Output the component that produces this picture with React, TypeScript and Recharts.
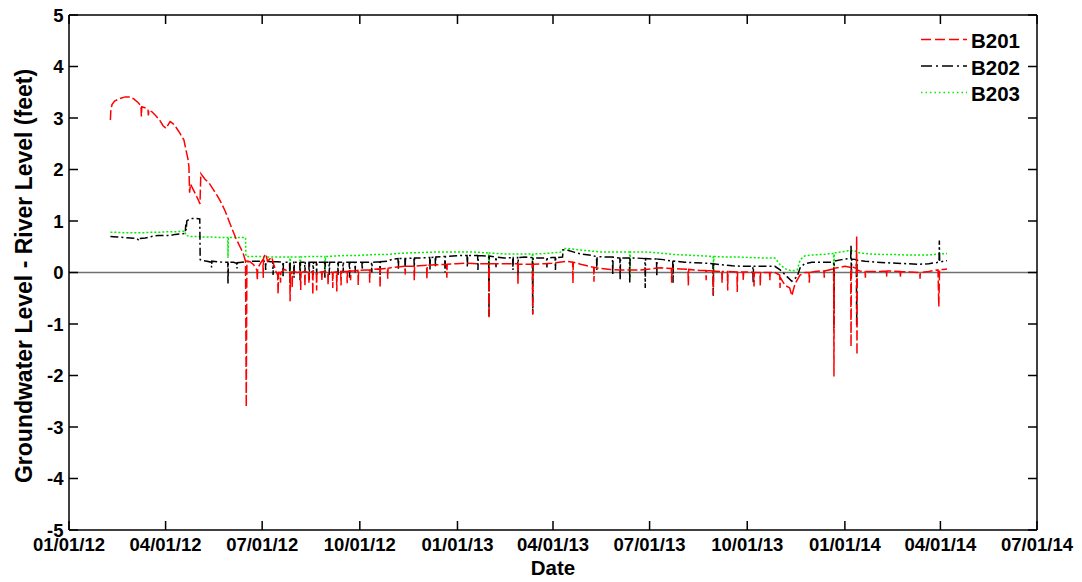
import React from 'react';
import { LineChart, Line, XAxis, YAxis, ReferenceLine, Legend } from 'recharts';

// x = days since 01/01/2012, y = feet
const dateTicks = [0, 91, 182, 274, 366, 456, 547, 639, 731, 821, 912];
const dateTickLabels = ['01/01/12', '04/01/12', '07/01/12', '10/01/12', '01/01/13', '04/01/13', '07/01/13', '10/01/13', '01/01/14', '04/01/14', '07/01/14'];
const valueTicks = [-5, -4, -3, -2, -1, 0, 1, 2, 3, 4, 5];
const seriesNames = ['B201', 'B202', 'B203'];

const b201: [number, number][] = [
  [39.0, 2.96], [39.4, 3.14], [40.5, 3.26], [43, 3.33], [48, 3.38], [53, 3.41], [57.5, 3.41], [61, 3.37], [65, 3.30],
  [67.8, 3.24], [68.2, 3.03], [68.6, 3.22], [71.5, 3.20], [74.4, 3.17], [74.8, 3.05], [75.2, 3.15], [78.2, 3.12],
  [82, 3.04], [85.7, 2.95], [88.6, 2.85], [91.4, 2.80], [95.2, 2.93], [98, 2.89], [100.8, 2.82], [104.6, 2.70],
  [108.3, 2.57], [110.2, 2.38], [112.1, 2.20], [113, 2.05], [113.6, 1.55], [114.5, 1.72], [116.8, 1.62], [119.7, 1.50],
  [122.5, 1.38], [123.4, 1.33], [124.2, 1.92], [128.1, 1.81], [131.9, 1.74], [135.7, 1.62], [139.4, 1.50], [143.2, 1.36],
  [147, 1.20], [149.8, 1.05], [153.6, 0.85], [157.3, 0.66], [161.1, 0.50], [164, 0.38], [166.3, 0.22], [167.0, -2.61],
  [167.6, 0.22], [170.5, 0.21], [174, 0.15], [177, 0.05], [177.4, -0.15], [177.8, 0.08], [181, 0.2], [182.7, 0.25],
  [183, -0.1], [183.3, 0.28], [184, 0.32], [185.5, 0.36], [187, 0.22], [189, 0.26], [191, 0.3], [193, 0.15], [195, 0.02],
  [196.6, -0.05], [197, -0.42], [197.4, 0.0], [199, 0.0], [199.3, -0.2], [199.6, 0.0], [203, 0.06], [205.5, 0.03],
  [208, 0.0], [208.3, -0.56], [208.6, 0.0], [210, 0.01], [210.3, -0.3], [210.6, 0.01], [212, 0.02], [215, 0.0],
  [218, 0.01], [218.3, -0.34], [218.6, 0.0], [222, 0.02], [222.3, -0.27], [222.6, 0.02], [225.7, 0.0], [226, -0.2],
  [226.3, 0.0], [229.4, 0.02], [229.7, -0.43], [230, 0.02], [233, 0.01], [233.3, -0.35], [233.6, 0.01], [235, 0.0],
  [238, 0.01], [238.3, -0.15], [238.6, 0.01], [240, 0.02], [243.8, 0.0], [244.1, -0.24], [244.4, 0.01], [248.2, 0.0],
  [248.5, -0.3], [248.8, 0.0], [252, 0.01], [252.3, -0.37], [252.6, 0.01], [256, 0.02], [256.3, -0.25], [256.6, 0.02],
  [258, 0.02], [261.8, 0.02], [262.1, -0.21], [262.4, 0.02], [265, 0.03], [265.3, -0.15], [265.6, 0.03], [268, 0.03],
  [272.2, 0.04], [272.5, -0.24], [272.8, 0.04], [280, 0.05], [283, 0.05], [283.3, -0.2], [283.6, 0.05], [286, 0.06],
  [292.8, 0.07], [293.1, -0.3], [293.4, 0.07], [300, 0.08], [300.3, -0.12], [300.6, 0.08], [305, 0.1], [312, 0.11],
  [316.5, 0.12], [316.8, -0.04], [317.1, 0.12], [325, 0.12], [325.3, -0.15], [325.6, 0.12], [330, 0.13], [336.9, 0.14],
  [337.2, -0.13], [337.5, 0.14], [345, 0.15], [355.7, 0.16], [356, -0.1], [356.3, 0.16], [365, 0.17], [375, 0.18],
  [385, 0.17], [395.4, 0.17], [395.7, -0.89], [396, 0.17], [405, 0.17], [415, 0.17], [422.7, 0.17], [423, -0.24],
  [423.3, 0.16], [430, 0.16], [436.6, 0.16], [436.9, -0.82], [437.2, 0.16], [448, 0.17], [455, 0.18], [462, 0.2],
  [469, 0.22], [474.5, 0.2], [474.8, -0.21], [475.1, 0.2], [482, 0.16], [488, 0.13], [494.3, 0.1], [494.6, -0.18],
  [494.9, 0.1], [500, 0.08], [510, 0.06], [519, 0.05], [528, 0.05], [538, 0.05], [548, 0.07], [557, 0.09],
  [567.5, 0.08], [567.8, -0.2], [568.1, 0.08], [576, 0.07], [583.2, 0.06], [583.5, -0.25], [583.8, 0.06], [594.5, 0.04],
  [600, 0.04], [600.3, -0.15], [600.6, 0.04], [606.7, 0.03], [607, -0.43], [607.3, 0.03], [613, 0.02], [615, 0.02],
  [615.3, -0.2], [615.6, 0.02], [620.3, 0.02], [620.6, -0.35], [620.9, 0.02], [629.3, 0.01], [629.6, -0.38],
  [629.9, 0.01], [635, 0.01], [635.3, -0.15], [635.6, 0.01], [638, 0.01], [645.1, 0.0], [645.4, -0.27], [645.7, 0.0],
  [651, 0.0], [651.3, -0.25], [651.6, 0.0], [655, 0.0], [660, 0.0], [660.3, -0.15], [660.6, 0.0], [665, 0.0],
  [669.6, -0.05], [669.9, -0.3], [670.2, -0.1], [674.6, -0.25], [679, -0.3], [681, -0.45], [684, -0.22], [688.7, -0.05],
  [693.4, 0.0], [697.2, 0.0], [697.5, -0.2], [697.8, 0.0], [703, 0.02], [707.5, 0.03], [711.3, 0.03], [711.6, -0.1],
  [711.9, 0.03], [716, 0.05], [720.4, 0.07], [720.7, -2.02], [721, 0.08], [726, 0.1], [731, 0.12], [735.8, 0.1],
  [736.5, 0.1], [736.8, -1.44], [737.1, 0.1], [739, 0.1], [741.8, 0.08], [742.1, 0.7], [742.4, -1.6], [742.7, 0.05],
  [745, 0.03], [750, 0.02], [750.3, -0.1], [750.6, 0.02], [755, 0.02], [764, 0.02], [770, 0.03], [770.3, -0.08],
  [770.6, 0.03], [773, 0.03], [783, 0.02], [783.3, -0.1], [783.6, 0.02], [792, 0.01], [801.5, 0.0], [801.8, -0.12],
  [802.1, 0.0], [810, 0.02], [818.7, 0.05], [819.5, -0.66], [820.2, 0.06], [824, 0.06], [827.2, 0.07],
];

const b202: [number, number][] = [
  [39, 0.70], [45, 0.69], [52, 0.68], [58, 0.67], [64, 0.66], [66, 0.62], [66.4, 0.66], [72, 0.67], [78, 0.70],
  [84, 0.72], [90, 0.72], [96, 0.72], [100, 0.74], [105, 0.75], [109.5, 0.76], [110, 0.93], [110.4, 0.82], [111, 1.0],
  [113, 1.03], [116, 1.05], [120, 1.05], [123.2, 1.04], [123.6, 0.25], [126, 0.23], [130, 0.22], [134, 0.2],
  [134.3, 0.1], [134.6, 0.22], [140, 0.21], [145, 0.2], [149.6, 0.2], [149.8, -0.22], [150.1, 0.2], [155, 0.2],
  [158, 0.18], [158.3, 0.08], [158.6, 0.19], [163, 0.2], [167, 0.21], [172, 0.22], [178, 0.22], [184, 0.22],
  [185, 0.22], [185.3, 0.05], [185.6, 0.22], [190, 0.21], [192, 0.21], [192.3, -0.05], [192.6, 0.21], [196, 0.21],
  [201.4, 0.2], [201.7, -0.1], [202, 0.2], [207.8, 0.2], [208.1, -0.2], [208.4, 0.2], [211.7, 0.2], [212, -0.1],
  [212.3, 0.2], [213, 0.2], [217.4, 0.2], [217.7, -0.15], [218, 0.2], [222, 0.2], [222.3, 0.0], [222.6, 0.2],
  [224, 0.2], [226, 0.2], [226.3, -0.15], [226.6, 0.2], [229.8, 0.2], [230.1, -0.05], [230.4, 0.2], [233, 0.2],
  [233.3, -0.05], [233.6, 0.2], [236, 0.2], [240.8, 0.2], [241.1, -0.1], [241.4, 0.2], [245, 0.2], [245.3, -0.05],
  [245.6, 0.2], [247, 0.2], [253.2, 0.2], [253.5, -0.05], [253.8, 0.2], [258, 0.2], [258.3, 0.0], [258.6, 0.2],
  [260, 0.2], [264, 0.2], [264.3, -0.1], [264.6, 0.2], [269.3, 0.2], [269.6, 0.0], [269.9, 0.2], [276, 0.2],
  [276.3, 0.05], [276.6, 0.2], [280, 0.2], [285, 0.2], [285.3, 0.0], [285.6, 0.2], [292.8, 0.21], [293.1, -0.05],
  [293.4, 0.21], [300, 0.22], [305, 0.26], [310, 0.27], [310.3, 0.05], [310.6, 0.27], [316.4, 0.27], [316.7, 0.05],
  [317, 0.27], [325, 0.28], [325.3, 0.1], [325.6, 0.28], [330, 0.28], [339.8, 0.29], [340.1, 0.05], [340.4, 0.29],
  [345, 0.3], [345.3, 0.1], [345.6, 0.3], [354, 0.31], [354.3, 0.0], [354.6, 0.31], [368, 0.33], [375, 0.33],
  [375.3, 0.1], [375.6, 0.33], [380, 0.33], [385, 0.33], [385.3, 0.05], [385.6, 0.33], [395.4, 0.32], [395.7, -0.85],
  [396, 0.32], [402, 0.3], [402.3, 0.1], [402.6, 0.3], [410, 0.28], [418, 0.29], [418.3, 0.05], [418.6, 0.29],
  [422.7, 0.29], [423, -0.05], [423.3, 0.29], [430, 0.3], [436.6, 0.29], [436.9, -0.8], [437.2, 0.28], [445, 0.28],
  [450, 0.28], [450.3, 0.1], [450.6, 0.28], [455, 0.29], [458, 0.29], [458.3, 0.05], [458.6, 0.29], [465, 0.3],
  [465.5, 0.44], [470, 0.43], [475, 0.4], [482, 0.36], [490, 0.34], [497, 0.31], [497.3, 0.05], [497.6, 0.31],
  [505, 0.3], [512, 0.3], [512.3, -0.05], [512.6, 0.3], [519, 0.28], [519.3, -0.14], [519.6, 0.28], [528, 0.28],
  [528.3, -0.2], [528.6, 0.28], [535, 0.28], [542.6, 0.27], [542.9, -0.3], [543.2, 0.27], [550, 0.26], [553.5, 0.26],
  [553.8, -0.08], [554.1, 0.26], [560, 0.25], [568.8, 0.22], [569.1, -0.2], [569.4, 0.22], [580, 0.2], [590, 0.19],
  [600, 0.18], [606.7, 0.17], [607, -0.45], [607.3, 0.17], [615, 0.15], [625, 0.13], [635, 0.12], [644.3, 0.12],
  [644.6, -0.2], [644.9, 0.12], [655, 0.12], [665, 0.12], [670, 0.05], [675, -0.05], [681, -0.17], [686, -0.08],
  [689, 0.1], [693, 0.17], [700, 0.2], [710, 0.2], [720.4, 0.2], [720.7, -1.08], [721, 0.22], [728, 0.25],
  [734, 0.27], [736.5, 0.27], [736.8, 0.54], [737.1, -0.1], [737.4, 0.26], [741.8, 0.25], [742.1, -1.05], [742.4, 0.24],
  [750, 0.22], [760, 0.2], [770, 0.19], [780, 0.18], [790, 0.17], [800, 0.16], [810, 0.17], [819.7, 0.2], [820, 0.62],
  [820.3, 0.2], [824, 0.22], [827.2, 0.23],
];

const b203: [number, number][] = [
  [39, 0.78], [45, 0.78], [52, 0.77], [60, 0.77], [68, 0.77], [76, 0.78], [84, 0.78], [92, 0.79], [100, 0.79],
  [106, 0.80], [109.5, 0.80], [110, 0.72], [114, 0.70], [120, 0.70], [127, 0.69], [134, 0.69], [141, 0.68],
  [149.6, 0.68], [149.8, 0.28], [150.1, 0.68], [156, 0.68], [162, 0.68], [166.3, 0.68], [166.7, 0.31], [172, 0.31],
  [180, 0.31], [190, 0.3], [200, 0.3], [208.1, 0.3], [208.3, -0.1], [208.6, 0.3], [217.7, 0.3], [218, 0.0],
  [218.3, 0.3], [225, 0.31], [241.1, 0.31], [241.4, 0.05], [241.7, 0.31], [250, 0.32], [260, 0.33], [270, 0.33],
  [280, 0.34], [290, 0.35], [300, 0.35], [310, 0.37], [320, 0.38], [335, 0.39], [350, 0.40], [365, 0.4], [380, 0.4],
  [395.4, 0.38], [395.7, -0.3], [396, 0.38], [410, 0.36], [420, 0.36], [436.6, 0.36], [436.9, -0.2], [437.2, 0.36],
  [450, 0.37], [465, 0.4], [465.5, 0.47], [472, 0.46], [480, 0.44], [490, 0.42], [500, 0.4], [512, 0.4],
  [528.3, 0.4], [528.6, -0.1], [528.9, 0.4], [540, 0.4], [550, 0.39], [560, 0.37], [570, 0.35], [580, 0.34],
  [590, 0.33], [600, 0.32], [607, 0.31], [607.3, 0.0], [607.6, 0.31], [620, 0.3], [630, 0.3], [645, 0.29],
  [655, 0.28], [665, 0.28], [670, 0.15], [675, 0.07], [681, 0.03], [686, 0.05], [689, 0.25], [693, 0.32],
  [700, 0.34], [710, 0.35], [720.4, 0.37], [720.7, -0.3], [721, 0.38], [728, 0.4], [734, 0.42], [740, 0.42],
  [745, 0.38], [755, 0.36], [765, 0.35], [775, 0.35], [790, 0.34], [800, 0.34], [810, 0.34], [820, 0.36], [827.2, 0.37],
];

const FONT = '"Liberation Sans", Arial, Helvetica, sans-serif';
const colors = ['#ff0000', '#000000', '#00ee00'];
const dashes = ['10 3', '8 3 2 3', '2 2'];
const legendDashes = ['10 4', '11 4 2 4', '1.5 3'];
const drawOrder = [2, 1, 0];

const toRows = (pairs: [number, number][]) => pairs.map(([day, value]) => ({ day, value }));
const seriesData = [toRows(b201), toRows(b202), toRows(b203)];

const fmtDate = (d: number) => {
  const i = dateTicks.indexOf(d);
  return i >= 0 ? dateTickLabels[i] : '';
};

const tickStyle = { fontSize: 18.5, fontWeight: 'bold', fill: '#000', fontFamily: FONT };

const EmptyTick = () => <g />;

const XTitle = () => (
  <text x={553} y={575} textAnchor="middle" fontSize={20.5} fontWeight="bold" fontFamily={FONT} fill="#000">Date</text>
);

const YTitle = () => (
  <text x={24} y={276} transform="rotate(-90, 24, 276)" textAnchor="middle" dominantBaseline="central" fontSize={23} fontWeight="bold" fontFamily={FONT} fill="#000">
    Groundwater Level - River Level (feet)
  </text>
);

const renderLegend = () => (
  <svg width={150} height={90} style={{ display: 'block' }}>
    {seriesNames.map((name, i) => {
      const cy = 19.5 + i * 26.5;
      return (
        <g key={name}>
          <line x1={21} x2={67} y1={cy} y2={cy} stroke={colors[i]} strokeWidth={1.5} strokeDasharray={legendDashes[i]} />
          <text x={71} y={cy + 8.5} fontSize={20.5} fontWeight="bold" fontFamily={FONT} fill="#000">{name}</text>
        </g>
      );
    })}
  </svg>
);

export default function App() {
  return (
    <div style={{ position: 'absolute', left: 0, top: 0, width: 1082, height: 582, background: '#fff' }}>
      <LineChart width={1082} height={582} margin={{ top: 14, right: 44, bottom: 0, left: 0 }}>
        <XAxis
          xAxisId="bottom"
          dataKey="day"
          type="number"
          domain={[0, 912]}
          ticks={dateTicks}
          interval={0}
          allowDataOverflow
          tickFormatter={fmtDate}
          height={52}
          tickSize={-9}
          tickMargin={17}
          tick={tickStyle}
          axisLine={{ stroke: '#000', strokeWidth: 1.5 }}
          tickLine={{ stroke: '#000', strokeWidth: 1.5 }}
          label={<XTitle />}
        />
        <XAxis
          xAxisId="top"
          orientation="top"
          dataKey="day"
          type="number"
          domain={[0, 912]}
          ticks={dateTicks}
          interval={0}
          allowDataOverflow
          height={1}
          tickSize={-9}
          tick={<EmptyTick />}
          axisLine={{ stroke: '#000', strokeWidth: 1.5 }}
          tickLine={{ stroke: '#000', strokeWidth: 1.5 }}
        />
        <YAxis
          yAxisId="left"
          type="number"
          domain={[-5, 5]}
          ticks={valueTicks}
          interval={0}
          allowDataOverflow
          width={69}
          tickSize={-9}
          tickMargin={14.5}
          tick={tickStyle}
          axisLine={{ stroke: '#000', strokeWidth: 1.5 }}
          tickLine={{ stroke: '#000', strokeWidth: 1.5 }}
          label={<YTitle />}
        />
        <YAxis
          yAxisId="right"
          orientation="right"
          type="number"
          domain={[-5, 5]}
          ticks={valueTicks}
          interval={0}
          allowDataOverflow
          width={1}
          tickSize={-9}
          tick={<EmptyTick />}
          axisLine={{ stroke: '#000', strokeWidth: 1.5 }}
          tickLine={{ stroke: '#000', strokeWidth: 1.5 }}
        />
        <ReferenceLine xAxisId="bottom" yAxisId="left" y={0} stroke="#707070" strokeWidth={1.5} />
        {drawOrder.map((i) => (
          <Line
            key={seriesNames[i]}
            name={seriesNames[i]}
            xAxisId="bottom"
            yAxisId="left"
            data={seriesData[i]}
            dataKey="value"
            type="linear"
            stroke={colors[i]}
            strokeWidth={1.5}
            strokeDasharray={dashes[i]}
            dot={false}
            activeDot={false}
            isAnimationActive={false}
          />
        ))}
        <Legend
          layout="horizontal"
          verticalAlign="middle"
          align="center"
          content={renderLegend}
          wrapperStyle={{ position: 'absolute', left: 900, top: 20, width: 150, height: 90 }}
        />
      </LineChart>
    </div>
  );
}
